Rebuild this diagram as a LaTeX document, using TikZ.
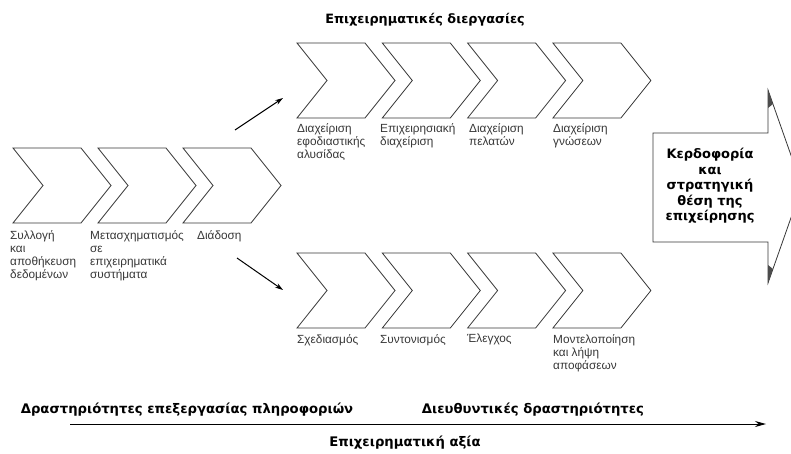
\documentclass[tikz,border=0pt]{standalone}
\usepackage{fontspec}
\setmainfont{Liberation Sans}
\newfontfamily\boxfont{DejaVu Sans}
\usetikzlibrary{arrows.meta,positioning,calc}
\definecolor{inkgray}{RGB}{55,55,55}
% one chevron, top-left corner at (#1,#2)
\newcommand{\chev}[2]{%
  \draw[chev] (#1,#2) -- ++(68,0) -- ++(30,37.5) -- ++(-30,37.5) -- ++(-68,0) -- ++(30,-37.5) -- cycle;}

\begin{document}
\begin{tikzpicture}[
  x=1pt,y=-1pt,>={Stealth[length=11pt,width=6pt]},
  chev/.style={draw=inkgray,line width=0.8pt,line join=miter},
  lbl/.style={anchor=north west,inner sep=0pt,align=left,text=inkgray,
    font=\fontsize{11.8}{13.3}\selectfont},
  hdr/.style={inner sep=0pt,font=\boxfont\bfseries\fontsize{12.8}{15}\selectfont},
  axislbl/.style={inner sep=0pt,font=\boxfont\bfseries\fontsize{13.2}{16}\selectfont},
  link/.style={->,line width=1pt,>={Stealth[length=8pt,width=5pt]}}
]
  \useasboundingbox (0,0) rectangle (791,453);

  % Information processing (left row)
  \foreach \i/\lx/\txt [count=\k] in {0/10/{Συλλογή\\και\\αποθήκευση\\δεδομένων},
      1/90/{Μετασχηματισμός\\σε\\επιχειρηματικά\\συστήματα},
      2/197/{Διάδοση}} {
    \chev{13+85*\i}{148}
    \node[lbl] (info\k) at (\lx,230) {\txt};
  }

  % Business processes (top row)
  \node[hdr] (bproc) at (425,20) {Επιχειρηματικές διεργασίες};
  \foreach \i/\lx/\txt [count=\k] in {0/297/{Διαχείριση\\εφοδιαστικής\\αλυσίδας},
      1/380/{Επιχειρησιακή\\διαχείριση},
      2/469/{Διαχείριση\\πελατών},
      3/553/{Διαχείριση\\γνώσεων}} {
    \chev{297+85.3*\i}{43}
    \node[lbl] (proc\k) at (\lx,123) {\txt};
  }

  % Management activities (bottom row)
  \foreach \i/\lx/\txt [count=\k] in {0/297/{Σχεδιασμός},
      1/380/{Συντονισμός},
      2/467/{Έλεγχος},
      3/553/{Μοντελοποίηση\\και λήψη\\αποφάσεων}} {
    \chev{297+85.3*\i}{253}
    \node[lbl] (mgmt\k) at (\lx,334) {\txt};
  }

  % branching arrows
  \coordinate (upA) at (235,130);
  \coordinate (upB) at (283,98);
  \coordinate (dnA) at (237,258);
  \coordinate (dnB) at (283,290);
  \draw[link] (upA) -- (upB);
  \draw[link] (dnA) -- (dnB);

  % Result arrow
  \draw[chev,fill=white] (653,133) -- (768,133) -- (768,90) -- (802,186.5)
    -- (768,283) -- (768,242) -- (653,242) -- cycle;
  \fill[black!70] (768,90) -- (773,104) -- (768,108) -- cycle;
  \fill[black!70] (768,283) -- (773,269) -- (768,265) -- cycle;
  \node[inner sep=0pt,align=center,font=\boxfont\bfseries\fontsize{13}{15.5}\selectfont]
    (profit) at (710,186) {Κερδοφορία\\και\\στρατηγική\\θέση της\\επιχείρησης};

  % Value axis
  \node[axislbl] (infoact) at (187,410) {Δραστηριότητες επεξεργασίας πληροφοριών};
  \node[axislbl] (mgmtact) at (533,410) {Διευθυντικές δραστηριότητες};
  \coordinate (vS) at (70,424);
  \coordinate (vE) at (766,424);
  \draw[->,line width=1pt] (vS) -- (vE);
  \node[axislbl] (bvalue) at (405,443) {Επιχειρηματική αξία};
\end{tikzpicture}
\end{document}
